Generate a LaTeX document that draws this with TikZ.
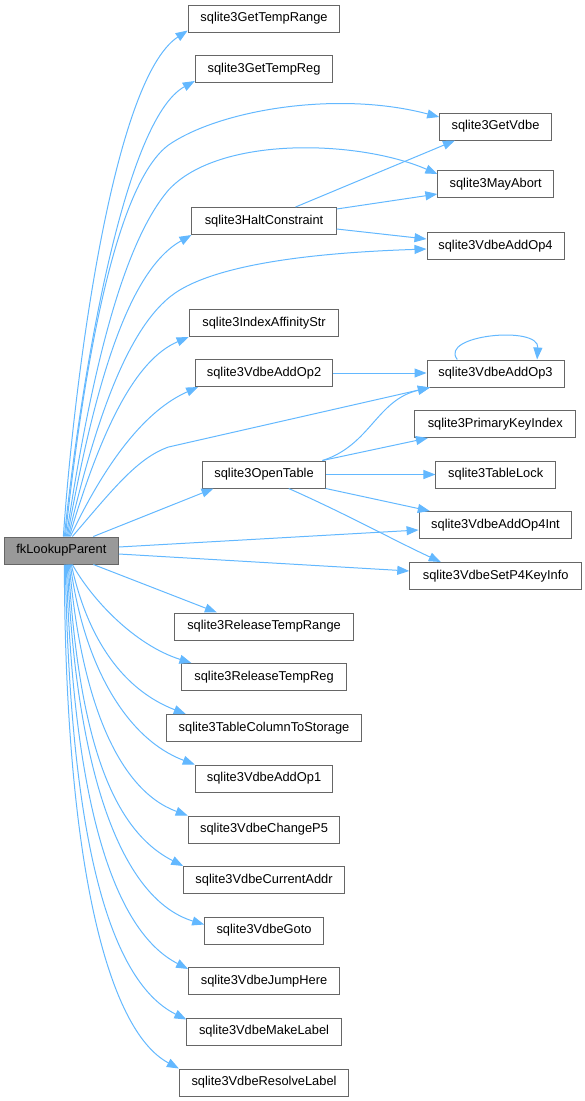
\documentclass[tikz,border=0pt]{standalone}
\usepackage{fontspec}
\setmainfont{Liberation Sans}
\usetikzlibrary{arrows.meta}
\definecolor{edgeblue}{HTML}{63B8FF}
\definecolor{boxborder}{HTML}{666666}
\definecolor{fkfill}{HTML}{999999}
\tikzset{
  fn/.style={draw=boxborder, line width=1pt, fill=white, minimum height=27pt, inner xsep=2pt, inner ysep=0pt,
    font=\fontsize{12.85}{15}\selectfont, text=black},
  fkbox/.style={fn, fill=fkfill},
  edge/.style={draw=edgeblue, line width=1pt, -{Triangle[length=12pt,width=9pt]}, fill=none},
}
\begin{document}
\begin{tikzpicture}[x=1.1236pt,y=-1pt]
\useasboundingbox (0,0) rectangle (519.76,1101);
% nodes
\node[fkbox, minimum width=114pt] (fk) at (54.6,550.5) {fkLookupParent};
\node[fn, minimum width=151.7pt] (gtr) at (235,18.5) {sqlite3GetTempRange};
\node[fn, minimum width=137.5pt] (gtreg) at (235,69) {sqlite3GetTempReg};
\node[fn, minimum width=111.6pt] (gv) at (441,126.5) {sqlite3GetVdbe};
\node[fn, minimum width=115.7pt] (ma) at (441.2,184) {sqlite3MayAbort};
\node[fn, minimum width=144.2pt] (hc) at (235,221) {sqlite3HaltConstraint};
\node[fn, minimum width=137pt] (ao4) at (441,246) {sqlite3VdbeAddOp4};
\node[fn, minimum width=149.8pt] (ias) at (235,323) {sqlite3IndexAffinityStr};
\node[fn, minimum width=137.5pt] (ao2) at (235,373) {sqlite3VdbeAddOp2};
\node[fn, minimum width=137pt] (ao3) at (441,373.5) {sqlite3VdbeAddOp3};
\node[fn, minimum width=160.7pt] (pki) at (440.8,424) {sqlite3PrimaryKeyIndex};
\node[fn, minimum width=122.5pt] (ot) at (235,474.5) {sqlite3OpenTable};
\node[fn, minimum width=119.5pt] (tl) at (441.2,474.5) {sqlite3TableLock};
\node[fn, minimum width=152.8pt] (ao4i) at (441,525) {sqlite3VdbeAddOp4Int};
\node[fn, minimum width=171.9pt] (sp4) at (441.2,576) {sqlite3VdbeSetP4KeyInfo};
\node[fn, minimum width=178.7pt] (rtr) at (235,626.5) {sqlite3ReleaseTempRange};
\node[fn, minimum width=164.4pt] (rtreg) at (235,677) {sqlite3ReleaseTempReg};
\node[fn, minimum width=195.9pt] (tcs) at (235,728) {sqlite3TableColumnToStorage};
\node[fn, minimum width=137.5pt] (ao1) at (235,778.5) {sqlite3VdbeAddOp1};
\node[fn, minimum width=151.7pt] (cp5) at (235,829.5) {sqlite3VdbeChangeP5};
\node[fn, minimum width=160.7pt] (ca) at (235,880) {sqlite3VdbeCurrentAddr};
\node[fn, minimum width=118.7pt] (goto) at (235,930.5) {sqlite3VdbeGoto};
\node[fn, minimum width=150.9pt] (jh) at (235,981) {sqlite3VdbeJumpHere};
\node[fn, minimum width=154.3pt] (ml) at (235,1031.5) {sqlite3VdbeMakeLabel};
\node[fn, minimum width=169.3pt] (rl) at (235,1082.5) {sqlite3VdbeResolveLabel};
% edges from fkLookupParent (upwards)
\draw[edge] ([xshift=2pt]fk.north) .. controls (66,380) and (100,80) .. ([yshift=2pt]gtr.south west);
\draw[edge] ([xshift=3pt]fk.north) .. controls (72,380) and (110,120) .. ([yshift=2pt]gtreg.south west);
\draw[edge] ([xshift=4pt]fk.north) .. controls (78,330) and (108,180) .. (150,145) .. controls (195,110) and (300,90) .. ([yshift=9.5pt]gv.west);
\draw[edge] ([xshift=5pt]fk.north) .. controls (80,380) and (108,245) .. (150,190) .. controls (195,135) and (320,140) .. ([yshift=10pt]ma.west);
\draw[edge] ([xshift=6pt]fk.north) .. controls (85,380) and (115,270) .. (hc.south west);
\draw[edge] ([xshift=7pt]fk.north) .. controls (85,420) and (115,320) .. (160,290) .. controls (205,260) and (300,252) .. ([yshift=-3pt]ao4.west);
\draw[edge] ([xshift=8pt]fk.north) .. controls (90,430) and (120,360) .. (ias.south west);
\draw[edge] ([xshift=9pt]fk.north) .. controls (95,460) and (130,410) .. ([xshift=3.4pt]ao2.south west);
\draw[edge] ([xshift=11pt]fk.north) .. controls (100,490) and (122,458) .. (150,447) -- ([xshift=3.4pt]ao3.south west);
\draw[edge] ([xshift=32pt]fk.north) -- ([xshift=11.2pt]ot.south west);
\draw[edge] ([yshift=3.5pt]fk.east) -- ([yshift=-5pt]ao4i.west);
\draw[edge] ([yshift=-3.5pt]fk.east) -- ([yshift=5pt]sp4.west);
% edges from fkLookupParent (downwards)
\draw[edge] ([xshift=32pt]fk.south) -- ([xshift=42.7pt]rtr.north west);
\draw[edge] ([xshift=11pt]fk.south) .. controls (82,600) and (120,645) .. ([xshift=10.1pt]rtreg.north west);
\draw[edge] ([xshift=10pt]fk.south) .. controls (78,640) and (110,690) .. ([xshift=20.2pt]tcs.north west);
\draw[edge] ([xshift=9pt]fk.south) .. controls (75,670) and (115,740) .. (ao1.north west);
\draw[edge] ([xshift=8pt]fk.south) .. controls (72,700) and (105,790) .. (cp5.north west);
\draw[edge] ([xshift=7pt]fk.south) .. controls (70,740) and (100,830) .. (ca.north west);
\draw[edge] ([xshift=6pt]fk.south) .. controls (68,780) and (110,900) .. ([yshift=-8pt]goto.north west);
\draw[edge] ([xshift=5pt]fk.south) .. controls (65,800) and (100,930) .. ([yshift=-2pt]jh.north west);
\draw[edge] ([xshift=4pt]fk.south) .. controls (62,830) and (95,980) .. ([yshift=-2pt]ml.north west);
\draw[edge] ([xshift=3pt]fk.south) .. controls (58,860) and (95,1030) .. (rl.north west);
% other edges
\draw[edge] ([xshift=31.5pt]hc.north) -- ([xshift=15.7pt]gv.south west);
\draw[edge] ([yshift=12pt]hc.east) -- ([yshift=-10pt]ma.west);
\draw[edge] ([yshift=-8pt]hc.east) -- ([yshift=7pt]ao4.west);
\draw[edge] (ao2.east) -- (ao3.west |- ao2.east);
\draw[edge] ([xshift=-38.2pt]ao3.north) .. controls (390,335) and (480,325) .. ([xshift=41.6pt]ao3.north);
\draw[edge] ([xshift=58.4pt]ot.north) .. controls (330,445) and (335,400) .. ([xshift=3.4pt]ao3.south west);
\draw[edge] ([xshift=58.4pt]ot.north) -- ([xshift=13.5pt]pki.south west);
\draw[edge] (ot.east) -- (tl.west);
\draw[edge] (ot.south east) -- ([xshift=11.2pt]ao4i.north west);
\draw[edge] ([xshift=24.7pt]ot.south) .. controls (310,515) and (350,540) .. ([xshift=31.5pt]sp4.north west);
\end{tikzpicture}
\end{document}
